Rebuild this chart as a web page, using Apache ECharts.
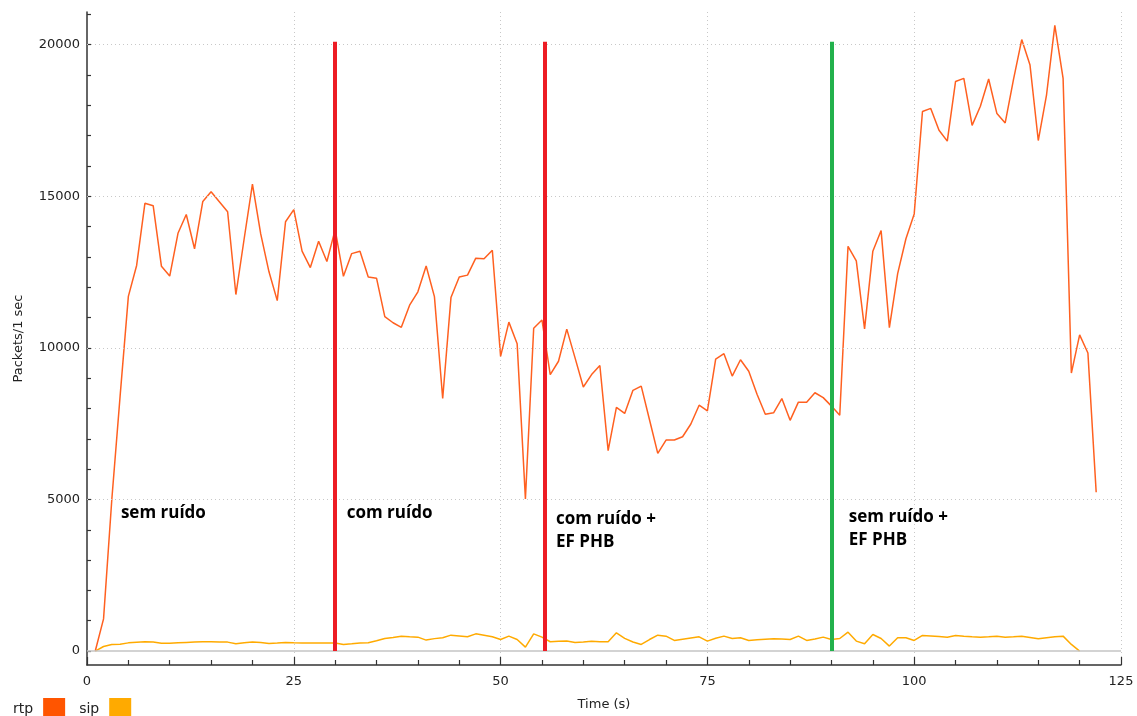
<!DOCTYPE html>
<html><head><meta charset="utf-8">
<script src="https://cdn.jsdelivr.net/npm/echarts@6/dist/echarts.min.js"></script>
<style>html,body{margin:0;padding:0;background:#fff}#c{width:1137px;height:716px}</style>
</head><body><div id="c"></div><script>
// rtp packets per second, t = 1 .. 122 s
const rtpValues = [
  0, 1060, 5000, 8400, 11700, 12720, 14770, 14690, 12690, 12370,
  13780, 14400, 13270, 14830, 15150, 14820, 14490, 11760, 13600, 15400,
  13760, 12510, 11560, 14160, 14560, 13190, 12650, 13520, 12850, 13900,
  12360, 13110, 13190, 12340, 12300, 11030, 10830, 10680, 11410, 11850,
  12700, 11690, 8330, 11660, 12340, 12400, 12960, 12940, 13220, 9720,
  10850, 10140, 5020, 10650, 10920, 9120, 9560, 10620, 9670, 8710,
  9120, 9420, 6610, 8040, 7840, 8600, 8740, 7630, 6520, 6960,
  6960, 7070, 7490, 8110, 7920, 9630, 9810, 9070, 9610, 9230,
  8470, 7810, 7860, 8330, 7610, 8210, 8210, 8520, 8360, 8080,
  7780, 13350, 12870, 10630, 13190, 13870, 10670, 12450, 13600, 14420,
  17800, 17900, 17180, 16820, 18790, 18890, 17340, 17970, 18870, 17730,
  17420, 18850, 20170, 19330, 16840, 18350, 20640, 18890, 9170, 10430,
  9830, 5240
];
// sip packets per second, t = 1 .. 120 s
const sipValues = [
  0, 150, 219, 225, 270, 290, 306, 300, 260, 255,
  270, 285, 300, 306, 305, 300, 295, 240, 275, 295,
  280, 250, 265, 284, 273, 265, 262, 262, 262, 262,
  219, 240, 262, 273, 340, 415, 450, 492, 470, 459,
  361, 410, 437, 525, 500, 470, 568, 520, 470, 383,
  492, 383, 131, 568, 459, 306, 320, 328, 284, 300,
  320, 306, 306, 601, 420, 300, 219, 380, 525, 492,
  350, 390, 430, 470, 328, 420, 492, 415, 437, 350,
  370, 390, 404, 395, 383, 492, 350, 400, 459, 380,
  415, 623, 328, 240, 546, 415, 164, 437, 437, 350,
  514, 500, 481, 459, 514, 490, 470, 459, 475, 492,
  459, 475, 492, 450, 404, 440, 470, 492, 219, 0
];
const startSecond = 1;
const yLabelValues = [0, 5000, 10000, 15000, 20000];
const yTickValues = [0,1000,2000,3000,4000,5000,6000,7000,8000,9000,10000,
  11000,12000,13000,14000,15000,16000,17000,18000,19000,20000,21000];
const yGridValues = [5000, 10000, 15000, 20000];
const markerTimes = [30, 55.3, 90];
const markerTop = 20100;
const markerColors = ['#ed1c24', '#ed1c24', '#22b14c'];
const noteTimes = [4.1, 31.4, 56.7, 92.1];
const noteValues = [4557, 4557, 3984, 4050];
const noteTexts = ['sem ruído', 'com ruído', 'com ruído +\nEF PHB', 'sem ruído +\nEF PHB'];

const toPairs = vals => vals.map((v, i) => [startSecond + i, v]);

const chart = echarts.init(document.getElementById('c'), null, {renderer: 'canvas'});
const axisFont = {fontFamily: 'DejaVu Sans', fontSize: 13, color: '#222'};
chart.setOption({
  animation: false,
  backgroundColor: '#fff',
  grid: {left: 87, right: 16, top: 12, bottom: 47, containLabel: false},
  legend: {
    data: ['rtp', 'sip'], left: 8, top: 693, itemWidth: 22, itemHeight: 22,
    icon: 'rect', align: 'right', itemGap: 14,
    textStyle: {fontFamily: 'DejaVu Sans', fontSize: 14, color: '#222', padding: [0, 5, 0, 0]}
  },
  xAxis: {
    type: 'value', min: 0, max: 125, interval: 25,
    name: 'Time (s)', nameLocation: 'middle', nameGap: 33,
    nameTextStyle: axisFont,
    axisLine: {onZero: false, lineStyle: {color: '#333', width: 1.5}},
    axisTick: {inside: true, length: 8, lineStyle: {color: '#333', width: 1.2}},
    minorTick: {show: true, splitNumber: 5, length: 5, lineStyle: {color: '#333', width: 1.2}},
    axisLabel: Object.assign({margin: 10, formatter: v => String(v)}, axisFont),
    splitLine: {show: true, showMinLine: false, lineStyle: {color: '#c8c8c8', width: 1, type: [1, 3]}}
  },
  yAxis: {
    type: 'value', min: -460, max: 21080,
    name: 'Packets/1 sec', nameLocation: 'middle', nameGap: 62,
    nameTextStyle: axisFont,
    axisLine: {show: true, onZero: false, lineStyle: {color: '#333', width: 1.5}},
    axisTick: {show: true, inside: true, length: 4, customValues: yTickValues, lineStyle: {color: '#333', width: 1.2}},
    axisLabel: Object.assign({margin: 7, padding: [6, 0, 0, 0], customValues: yLabelValues, formatter: v => String(v)}, axisFont),
    splitLine: {show: false}
  },
  series: [
    {
      name: 'grid', type: 'line', data: [], silent: true, z: 1,
      markLine: {
        silent: true, symbol: 'none', label: {show: false}, animation: false,
        data: yGridValues.map(v => ({yAxis: v, lineStyle: {color: '#c8c8c8', width: 1, type: [1, 3]}}))
          .concat([{yAxis: 0, lineStyle: {color: '#c4c4c4', width: 1.5, type: 'solid'}}])
      }
    },
    {
      name: 'sip', type: 'line', data: toPairs(sipValues), color: '#ffaa00',
      showSymbol: false, lineStyle: {width: 1.5, color: '#ffaa00'}, z: 3
    },
    {
      name: 'rtp', type: 'line', data: toPairs(rtpValues), color: '#ff5500',
      showSymbol: false, lineStyle: {width: 1.5, color: '#ff6020'}, z: 4
    },
    {
      name: 'markers', type: 'line', data: [], silent: true, z: 6,
      markLine: {
        silent: true, symbol: 'none', label: {show: false}, animation: false,
        data: markerTimes.map((t, i) => [
          {coord: [t, 0], lineStyle: {color: markerColors[i], width: 4, type: 'solid'}},
          {coord: [t, markerTop]}
        ])
      }
    },
    {
      name: 'notes', type: 'scatter', symbolSize: 0, silent: true, z: 7,
      data: noteTimes.map((t, i) => ({value: [t, noteValues[i]], text: noteTexts[i]})),
      label: {
        show: true, position: [0, 0], align: 'left', verticalAlign: 'middle',
        fontFamily: 'Open Sans', fontWeight: 700, fontSize: 17, lineHeight: 23, color: '#000',
        textBorderWidth: 0, opacity: 1,
        formatter: p => p.data.text
      }
    }
  ]
});
</script></body></html>
